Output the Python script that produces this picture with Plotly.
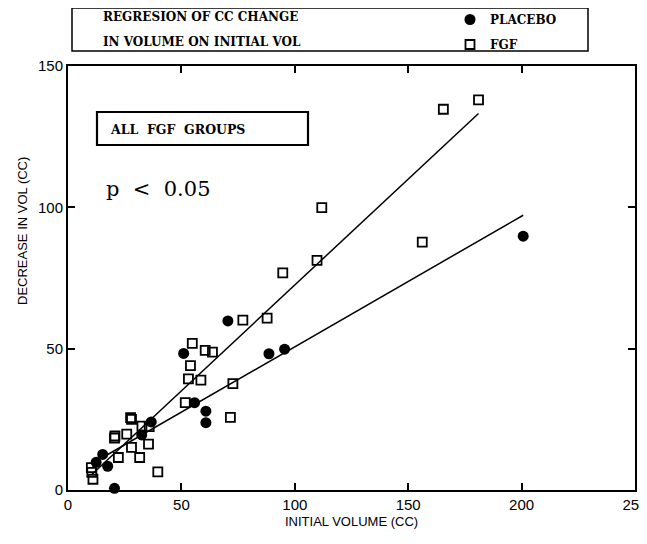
import plotly.graph_objects as go

# ---- data ----
placebo_x = [12.4, 15.3, 17.5, 20.5, 32.5, 36.7, 51.0, 55.8, 60.8, 60.8, 70.5, 88.6, 95.5, 200.7]
placebo_y = [9.8, 12.6, 8.4, 0.6, 19.5, 24.1, 48.3, 30.9, 27.9, 23.8, 59.8, 48.2, 49.8, 89.8]

fgf_x = [10.3, 10.5, 11.0, 20.5, 20.7, 22.2, 25.9, 27.6, 28.0, 28.0, 31.6, 32.6, 35.5, 35.8, 39.6,
         51.7, 53.1, 54.0, 54.8, 58.6, 60.5, 63.7, 71.6, 72.7, 77.1, 87.8, 94.7, 109.8, 111.9,
         156.2, 165.5, 181.0]
fgf_y = [7.9, 6.2, 3.8, 18.4, 19.1, 11.5, 19.8, 25.6, 25.0, 15.1, 11.5, 22.6, 16.2, 22.4, 6.4,
         30.9, 39.3, 44.0, 51.9, 38.9, 49.4, 48.8, 25.7, 37.6, 60.1, 60.8, 76.8, 81.2, 99.9,
         87.7, 134.7, 138.0]

# regression lines (end points)
fgf_fit_x = [10.5, 181.0]
fgf_fit_y = [5.5, 133.2]
placebo_fit_x = [12.0, 200.7]
placebo_fit_y = [10.0, 97.2]

x_ticks = [0, 50, 100, 150, 200, 250]
y_ticks = [0, 50, 100, 150]

BOLD_SERIF = "DejaVu Serif"

fig = go.Figure()

fig.add_trace(go.Scatter(x=fgf_fit_x, y=fgf_fit_y, mode="lines",
                         line=dict(color="black", width=1.5), showlegend=False, hoverinfo="skip"))
fig.add_trace(go.Scatter(x=placebo_fit_x, y=placebo_fit_y, mode="lines",
                         line=dict(color="black", width=1.5), showlegend=False, hoverinfo="skip"))

fig.add_trace(go.Scatter(x=fgf_x, y=fgf_y, mode="markers", name="FGF",
                         marker=dict(symbol="square-open", size=9, color="black",
                                     line=dict(width=1.8, color="black")),
                         cliponaxis=False, legend="legend2"))
fig.add_trace(go.Scatter(x=placebo_x, y=placebo_y, mode="markers", name="PLACEBO",
                         marker=dict(symbol="circle", size=11, color="black"),
                         cliponaxis=False, legend="legend"))

# page body has an 8px default margin, so the figure is sized to fit the window
OFF = 8
W, H = 647 - OFF, 544 - OFF
PL, PR, PT, PB = 68, 635, 66, 490  # plot area in window pixels
L, T = PL - OFF, PT - OFF
R = W - (PR - OFF)
B = H - (PB - OFF)
pw = PR - PL
ph = PB - PT


def px_x(px):
    return (px - PL) / pw


def px_y(py):
    return (PB - py) / ph


legend_font = dict(family=BOLD_SERIF, size=12, color="black", weight="bold")

fig.update_layout(
    width=W, height=H,
    margin=dict(l=L, r=R, t=T, b=B, autoexpand=False),
    paper_bgcolor="white", plot_bgcolor="white",
    showlegend=True,
    legend=dict(x=px_x(450), y=px_y(5), xanchor="left", yanchor="top",
                bgcolor="rgba(0,0,0,0)", borderwidth=0, font=legend_font, itemwidth=30),
    legend2=dict(x=px_x(450), y=px_y(30), xanchor="left", yanchor="top",
                 bgcolor="rgba(0,0,0,0)", borderwidth=0, font=legend_font, itemwidth=30),
    xaxis=dict(range=[0, 250], tickvals=x_ticks, ticktext=[str(v) for v in x_ticks],
               showgrid=False, zeroline=False, showline=True, linecolor="black", linewidth=2,
               mirror="ticks", ticks="inside", ticklen=7, tickwidth=1.5, tickcolor="black",
               ticklabeloverflow="allow",
               tickfont=dict(family="Liberation Sans", size=15, color="black")),
    yaxis=dict(range=[0, 150], tickvals=y_ticks, ticktext=[str(v) for v in y_ticks],
               showgrid=False, zeroline=False, showline=True, linecolor="black", linewidth=2,
               mirror="ticks", ticks="inside", ticklen=7, tickwidth=1.5, tickcolor="black",
               ticklabeloverflow="allow",
               tickfont=dict(family="Liberation Sans", size=15, color="black")),
    font=dict(family="Liberation Sans", color="black"),
)

shapes = [
    # top legend/title box
    dict(type="rect", xref="paper", yref="paper", x0=px_x(72), x1=px_x(588), y0=px_y(51), y1=px_y(8),
         line=dict(color="black", width=1.5)),
    # ALL FGF GROUPS box
    dict(type="rect", xref="paper", yref="paper", x0=px_x(97), x1=px_x(308), y0=px_y(145), y1=px_y(112),
         line=dict(color="black", width=2.2)),
]
fig.update_layout(shapes=shapes)

annotations = [
    dict(text="REGRESION OF CC CHANGE", x=px_x(101), y=px_y(17), xref="paper", yref="paper",
         xanchor="left", yanchor="middle", showarrow=False, font=legend_font),
    dict(text="IN VOLUME ON INITIAL VOL", x=px_x(101), y=px_y(42), xref="paper", yref="paper",
         xanchor="left", yanchor="middle", showarrow=False, font=legend_font),
    dict(text="ALL  FGF  GROUPS", x=px_x(108), y=px_y(129), xref="paper", yref="paper",
         xanchor="left", yanchor="middle", showarrow=False,
         font=dict(family=BOLD_SERIF, size=12.5, color="black", weight="bold")),
    dict(text="p  <  0.05", x=px_x(104), y=px_y(189), xref="paper", yref="paper",
         xanchor="left", yanchor="middle", showarrow=False,
         font=dict(family="DejaVu Serif", size=21, color="black")),
    dict(text="INITIAL VOLUME (CC)", x=0.5, y=px_y(521), xref="paper", yref="paper",
         xanchor="center", yanchor="middle", showarrow=False,
         font=dict(family="Liberation Sans", size=13, color="black")),
    dict(text="DECREASE IN VOL (CC)", x=px_x(22), y=px_y(231), xref="paper", yref="paper",
         xanchor="center", yanchor="middle", showarrow=False, textangle=-90,
         font=dict(family="Liberation Sans", size=13, color="black")),
]
fig.update_layout(annotations=annotations)

fig.write_html("out.html")
